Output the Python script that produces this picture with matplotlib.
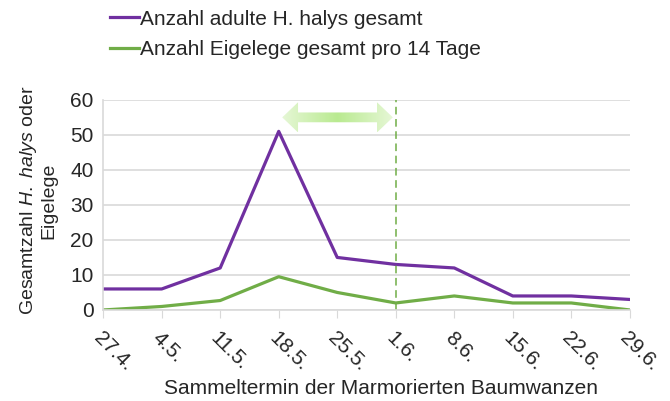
import numpy as np
import matplotlib
matplotlib.use("Agg")
import matplotlib.pyplot as plt
from matplotlib.patches import Polygon
from matplotlib.colors import LinearSegmentedColormap

plt.rcParams["font.family"] = ["Liberation Sans", "DejaVu Sans"]
plt.rcParams["mathtext.fontset"] = "custom"
plt.rcParams["mathtext.rm"] = "Liberation Sans"
plt.rcParams["mathtext.it"] = "Liberation Sans:italic"

dates = ["27.4.", "4.5.", "11.5.", "18.5.", "25.5.", "1.6.", "8.6.", "15.6.", "22.6.", "29.6."]
adults = [6, 6, 12, 51, 15, 13, 12, 4, 4, 3]
egg_masses = [0, 1, 2.7, 9.5, 5, 2, 4, 2, 2, 0]
marker_date = "1.6."

purple = "#7030A0"
green = "#70AD47"
txt = "#262626"
fs = 15

fig = plt.figure(figsize=(6.7, 4.01), dpi=100)
ax = fig.add_axes([0.154, 0.227, 0.786, 0.524])
x = np.arange(len(dates))
l1, = ax.plot(x, adults, color=purple, lw=2.3)
l2, = ax.plot(x, egg_masses, color=green, lw=2.3)
ax.axvline(dates.index(marker_date), color=green, lw=1.1, ls=(0, (5, 3)))

ax.set_xlim(0, len(dates) - 1)
ax.set_ylim(0, 60)
ax.set_yticks(range(0, 61, 10))
ax.set_xticks(x)
ax.set_xticklabels(dates, rotation=-45, ha="left", va="top", rotation_mode="anchor")
ax.grid(axis="y", color="#d9d9d9", lw=1.2)
ax.set_axisbelow(True)
for s in ["top", "right"]:
    ax.spines[s].set_visible(False)
for s in ["left", "bottom"]:
    ax.spines[s].set_color("#d9d9d9")
    ax.spines[s].set_linewidth(1.2)
ax.tick_params(axis="y", length=0, labelsize=fs, pad=7, colors=txt)
ax.tick_params(axis="x", length=6, color="#d9d9d9", labelsize=fs, pad=7, labelcolor=txt)
ax.set_xlabel("Sammeltermin der Marmorierten Baumwanzen", fontsize=fs, color=txt)
ax.xaxis.set_label_coords(0.5285, -0.33)
ax.set_ylabel("Gesamtzahl $\\it{H.\\ halys}$ oder\nEigelege", fontsize=14, linespacing=1.1,
              color=txt)
ax.yaxis.set_label_coords(-0.087, 0.52)

# gradient double arrow
x0, x1, yc = 3.06, 4.95, 55
hl, hw, bw = 0.27, 4.3, 1.4
pts = [(x0, yc), (x0 + hl, yc + hw), (x0 + hl, yc + bw), (x1 - hl, yc + bw),
       (x1 - hl, yc + hw), (x1, yc), (x1 - hl, yc - hw), (x1 - hl, yc - bw),
       (x0 + hl, yc - bw), (x0 + hl, yc - hw)]
poly = Polygon(pts, closed=True, facecolor="none", edgecolor="none")
ax.add_patch(poly)
cmap = LinearSegmentedColormap.from_list("g", ["#e6f7d6", "#b9ea90", "#e6f7d6"])
grad = np.linspace(0, 1, 256).reshape(1, -1)
im = ax.imshow(grad, extent=[x0, x1, yc - hw, yc + hw], aspect="auto", cmap=cmap,
               zorder=3, interpolation="bicubic")
im.set_clip_path(poly)
ax.set_xlim(0, len(dates) - 1)
ax.set_ylim(0, 60)

fig.legend([l1, l2], ["Anzahl adulte H. halys gesamt", "Anzahl Eigelege gesamt pro 14 Tage"],
           loc="upper left", bbox_to_anchor=(0.143, 1.012), frameon=False, fontsize=fs,
           handlelength=1.35, handletextpad=0.08, labelspacing=0.55, borderaxespad=0.3,
           labelcolor=txt)

fig.savefig("out.png", dpi=100)
